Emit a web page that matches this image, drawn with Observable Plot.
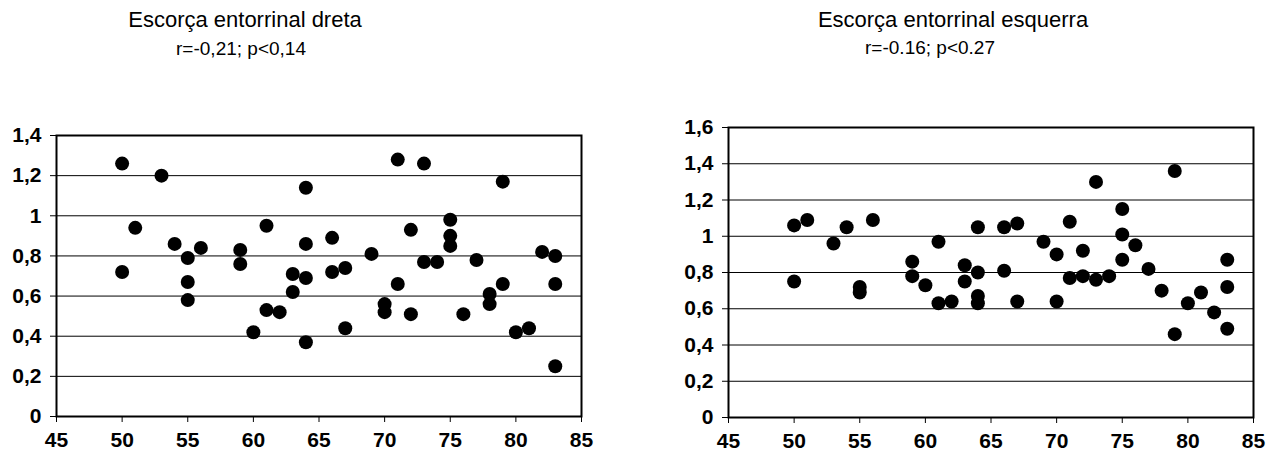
<!DOCTYPE html>
<html>
<head>
<meta charset="utf-8">
<script src="https://cdn.jsdelivr.net/npm/d3@7"></script>
<script src="https://cdn.jsdelivr.net/npm/@observablehq/plot@0.6"></script>
<style>
  html, body { margin: 0; padding: 0; background: #fff; }
  body { width: 1279px; height: 460px; position: relative; overflow: hidden; font-family: "Liberation Sans", Arial, sans-serif; }
  .title { position: absolute; color: #000; white-space: nowrap; line-height: 1; transform: translateX(-50%); }
  .t1 { font-size: 22px; }
  .t2 { font-size: 19px; }
  .chart { position: absolute; top: 100px; }
</style>
</head>
<body>
<div id="left" class="chart" style="left:0px;"></div>
<div id="right" class="chart" style="left:640px;"></div>
<div class="title t1" style="left:245px; top:9px;">Escorça entorrinal dreta</div>
<div class="title t2" style="left:241px; top:39px;">r=-0,21; p&lt;0,14</div>
<div class="title t1" style="left:953px; top:9px;">Escorça entorrinal esquerra</div>
<div class="title t2" style="left:930px; top:38px;">r=-0.16; p&lt;0.27</div>
<script>
// Right entorhinal cortex (dreta)
const leftAge = [50,50,51,53,54,55,55,55,56,59,59,60,61,61,62,63,63,64,64,64,64,66,66,67,67,69,70,70,71,71,72,72,73,73,74,75,75,75,76,77,78,78,79,79,80,81,82,83,83,83];
const leftVol = [1.26,0.72,0.94,1.20,0.86,0.79,0.67,0.58,0.84,0.83,0.76,0.42,0.95,0.53,0.52,0.71,0.62,1.14,0.86,0.69,0.37,0.89,0.72,0.74,0.44,0.81,0.56,0.52,1.28,0.66,0.93,0.51,1.26,0.77,0.77,0.98,0.90,0.85,0.51,0.78,0.61,0.56,1.17,0.66,0.42,0.44,0.82,0.80,0.66,0.25];
// Left entorhinal cortex (esquerra)
const rightAge = [50,50,51,53,54,55,55,56,59,59,60,61,61,62,63,63,64,64,64,64,66,66,67,67,69,70,70,71,71,72,72,73,73,74,75,75,75,76,77,78,79,79,80,81,82,83,83,83];
const rightVol = [1.06,0.75,1.09,0.96,1.05,0.72,0.69,1.09,0.86,0.78,0.73,0.97,0.63,0.64,0.84,0.75,1.05,0.80,0.67,0.63,1.05,0.81,1.07,0.64,0.97,0.90,0.64,1.08,0.77,0.92,0.78,1.30,0.76,0.78,1.15,1.01,0.87,0.95,0.82,0.70,1.36,0.46,0.63,0.69,0.58,0.87,0.72,0.49];
const xTicks = [45,50,55,60,65,70,75,80,85];
const yTicksLeft = [0,0.2,0.4,0.6,0.8,1.0,1.2,1.4];
const yTicksRight = [0,0.2,0.4,0.6,0.8,1.0,1.2,1.4,1.6];

const fmt = d => String(+d.toFixed(1)).replace(".", ",");

function makeChart(ages, vols, yTicks, yMax, dims) {
  const data = ages.map((a, i) => ({age: a, vol: vols[i]}));
  return Plot.plot({
    width: dims.width,
    height: 360,
    marginLeft: dims.ml,
    marginRight: dims.mr,
    marginTop: dims.mt,
    marginBottom: dims.mb,
    style: {fontFamily: "'Liberation Sans', Arial, sans-serif", fontSize: "21px", fontWeight: "bold", color: "#000", background: "transparent"},
    x: {domain: [45, 85], ticks: xTicks, tickSize: 6, tickPadding: 10, label: null},
    y: {domain: [0, yMax], ticks: yTicks, tickSize: 6, tickPadding: 9, tickFormat: fmt, label: null},
    marks: [
      Plot.gridY(yTicks, {stroke: "#000", strokeOpacity: 1, strokeWidth: 1}),
      Plot.frame({stroke: "#000", strokeWidth: 2}),
      Plot.dot(data, {x: "age", y: "vol", r: 7, fill: "#000", stroke: "none"})
    ]
  });
}

document.getElementById("left").append(
  makeChart(leftAge, leftVol, yTicksLeft, 1.4, {width: 620, ml: 56, mr: 39, mt: 35, mb: 44})
);
document.getElementById("right").append(
  makeChart(rightAge, rightVol, yTicksRight, 1.6, {width: 639, ml: 88, mr: 26, mt: 27, mb: 43})
);
</script>
</body>
</html>
